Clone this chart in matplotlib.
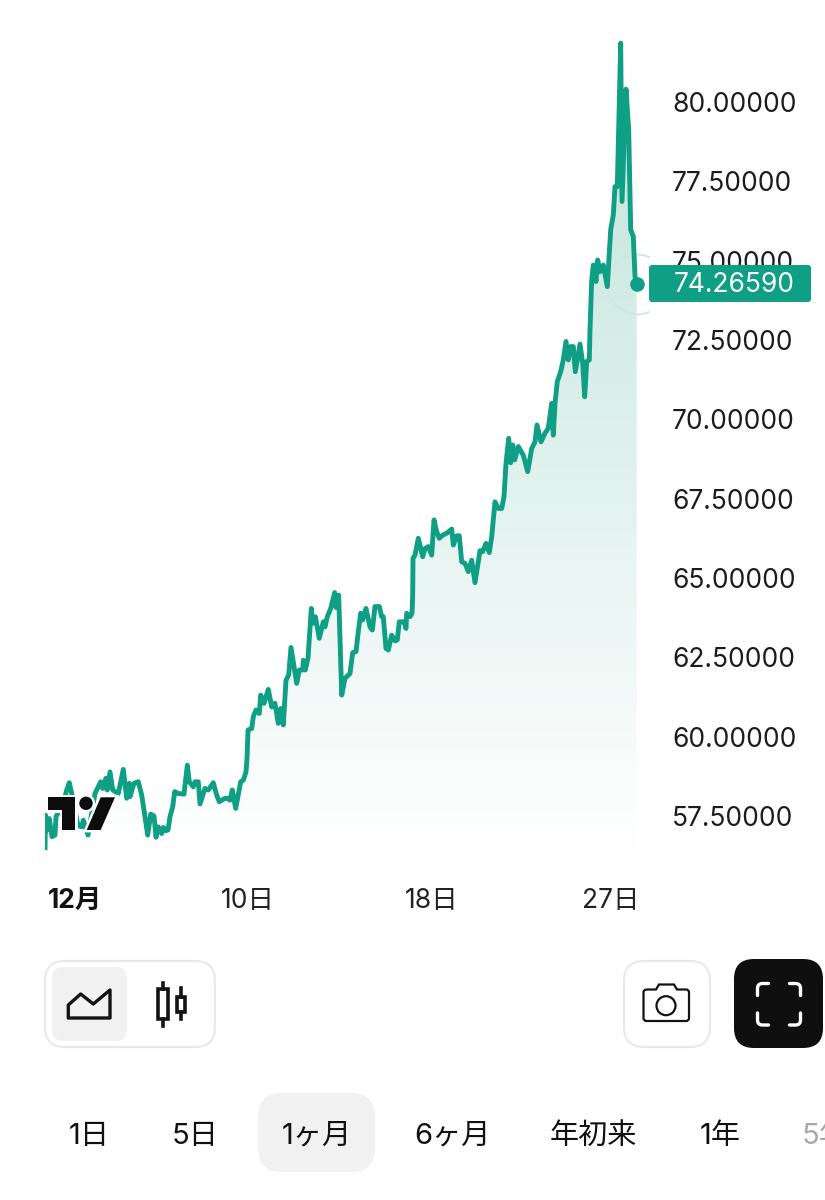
import matplotlib
matplotlib.use('Agg')
import matplotlib.pyplot as plt
import numpy as np
from matplotlib.patches import FancyBboxPatch, Circle, Polygon, PathPatch, Rectangle
from matplotlib.path import Path
from matplotlib.colors import LinearSegmentedColormap
from matplotlib.transforms import IdentityTransform

plt.rcParams['font.family'] = ['Inter', 'Noto Sans CJK JP', 'DejaVu Sans']

# chart data
bar_pos = [0, 0.5, 2.3, 4.3, 7, 10, 11, 18.3, 21.7, 24.3, 26.3, 33, 36.7, 38.3, 43, 50,
           55.7, 57.7, 61, 62.3, 65, 67.7, 73.3, 78.3, 81.7, 84.3, 85, 89, 93.3, 96.7,
           100, 102.7, 105.7, 109, 111, 113.3, 116.7, 118.3, 121, 123, 125, 127.7, 129.7,
           133.3, 139, 142.3, 144.3, 148.3, 150, 153.3, 155, 160, 163.3, 168.3, 171.7,
           174.3, 180, 182.3, 185, 187.3, 190.7, 195.7, 198.3, 201, 202, 203, 206.7,
           208.3, 211, 214.3, 215.7, 219, 223.3, 226.7, 230, 233.3, 235.7, 238.3, 241,
           243.7, 246, 251.7, 254.3, 257.7, 258.3, 260.3, 263, 266.3, 267.7, 270.3, 274.3,
           278.3, 280, 282.3, 285.7, 289.7, 291, 293.7, 296.7, 300, 305, 307.7, 311, 313.3,
           315.7, 317.7, 321, 325, 327.3, 330, 334.3, 336.7, 338.3, 341, 343.3, 346.7,
           350, 352.3, 354.3, 359, 361, 361.7, 365, 367, 367.7, 368, 370, 373.3, 377.7,
           380, 383.3, 386.7, 389, 391.7, 394.3, 397.7, 401.7, 406.7, 408.3, 411.7, 414.3,
           416.7, 420, 423.3, 426.7, 430, 435, 437.7, 441, 444.3, 446.7, 450, 453.3, 456.7,
           459, 461, 463.7, 465.7, 467.7, 469.7, 473.3, 478.3, 482.7, 486.7, 490, 492, 496,
           500, 503.3, 506.7, 508.3, 510, 512.3, 515.7, 518.3, 521, 523.3, 525.7, 528.3,
           530.3, 535, 537.7, 539.7, 541.7, 544.3, 545, 546.7, 548.3, 551, 552.7, 555,
           558.3, 562.3, 565.7, 568.3, 570, 572.3, 575.7, 577, 581, 583.7, 585.7, 588.3,
           590, 591.7]
prices = [56.43, 57.53, 57.06, 57.42, 56.85, 56.90, 57.48, 57.90, 58.32, 58.55, 58.27, 57.2,
          57.16, 57.37, 56.9, 58.21, 58.58, 58.37, 58.69, 58.32, 58.89, 58.32, 58.21, 58.97,
          58.06, 58.53, 58.11, 58.53, 58.58, 58.16, 57.48, 56.90, 57.56, 57.50, 56.83, 57.16,
          56.95, 57.14, 57.04, 57.06, 57.48, 57.79, 58.27, 58.21, 58.19, 59.10, 58.58, 58.42,
          58.58, 58.58, 57.88, 58.37, 58.32, 58.55, 58.16, 57.95, 58.06, 58.06, 58.00, 58.32,
          57.74, 58.58, 58.63, 58.89, 59.3, 60.21, 60.26, 60.63, 60.84, 60.73, 61.31, 61.05,
          61.49, 60.94, 61.05, 60.42, 60.89, 60.37, 61.78, 61.94, 62.81, 61.68, 62.10, 62.10,
          62.41, 62.10, 62.47, 64.04, 63.57, 63.78, 63.10, 63.62, 63.46, 63.78, 64.04, 64.54,
          64.07, 64.46, 61.31, 61.84, 61.99, 62.65, 62.68, 63.31, 63.89, 63.68, 64.04, 63.46,
          63.36, 64.10, 64.10, 63.78, 63.78, 62.78, 62.73, 63.20, 63.02, 63.05, 63.62, 63.62,
          63.41, 63.89, 63.78, 63.89, 64.46, 65.62, 65.72, 66.25, 65.67, 65.93, 65.99, 65.72,
          66.83, 66.46, 66.25, 66.35, 66.41, 66.54, 66.04, 66.33, 66.33, 65.51, 65.46, 65.20,
          65.56, 64.85, 65.86, 65.83, 66.09, 65.80, 66.30, 67.40, 67.19, 67.19, 67.56, 68.61,
          69.40, 68.63, 69.19, 68.72, 69.14, 68.87, 68.35, 69.08, 69.29, 69.82, 69.29, 69.56,
          69.72, 70.50, 69.50, 70.50, 71.19, 71.50, 71.87, 72.45, 71.87, 72.29, 72.29, 71.50,
          72.37, 71.76, 70.71, 71.82, 71.87, 72.81, 74.39, 74.86, 74.34, 75.02, 74.65, 74.86,
          74.18, 75.97, 76.44, 77.33, 77.33, 81.85, 76.86, 80.40, 79.12, 75.97, 75.76, 74.50,
          74.27]
y_ticks = [57.5, 60, 62.5, 65, 67.5, 70, 72.5, 75, 77.5, 80]
x_ticks = [30, 203, 387, 566]
x_labels = ['12月', '10日', '18日', '27日']
last_label = '74.26590'
tabs = ['1日', '5日', '1ヶ月', '6ヶ月', '年初来', '1年']
tab_centers = [89, 195, 317, 452, 593, 720]

TEAL = '#0e9f84'
INK = '#131313'

fig = plt.figure(figsize=(8.25, 12), dpi=100, facecolor='white')

# chart axes: px 45..672 wide, px 0..850 tall
ax = fig.add_axes([45 / 825, 350 / 1200, 627 / 825, 850 / 1200])
ax.set_xlim(0, 627)
ax.set_ylim(56.43, 83.21)
for s in ax.spines.values():
    s.set_visible(False)
ax.patch.set_alpha(0)

ax.yaxis.tick_right()
ax.set_yticks(y_ticks)
ax.set_yticklabels(['%.5f' % v for v in y_ticks], fontsize=19, color='#1c1c1c')
ax.tick_params(axis='y', length=0, pad=0)
ax.set_xticks(x_ticks)
ax.set_xticklabels(x_labels, fontsize=19, color='#222222')
ax.tick_params(axis='x', length=0, pad=27)
ax.get_xticklabels()[0].set_fontweight('bold')
ax.get_xticklabels()[0].set_color('#111111')

# gradient area under the line
cmap = LinearSegmentedColormap.from_list('fade', ['#ffffff', '#bfe3db'])
grad = np.linspace(1, 0, 256).reshape(-1, 1)
im = ax.imshow(grad, cmap=cmap, vmin=0, vmax=1, extent=[0, 627, 56.43, 81.85],
               aspect='auto', zorder=1)
ax.set_xlim(0, 627)
ax.set_ylim(56.43, 83.21)
area = Polygon(list(zip(bar_pos, prices)) + [(bar_pos[-1], 56.43), (0, 56.43)],
               transform=ax.transData, fc='none', ec='none')
ax.add_patch(area)
im.set_clip_path(area)

ax.plot(bar_pos, prices, color=TEAL, lw=3.5, solid_joinstyle='round', zorder=3)

# last price marker, ring stops where the price tag starts
ax.plot(bar_pos[-1], prices[-1], 'o', color=TEAL, ms=9.5, zorder=4, clip_on=False)
ring, = ax.plot(bar_pos[-1], prices[-1], 'o', mfc='none', mec='#cfe6e1', mew=1.3, ms=43,
                zorder=2.5)
ring.set_clip_path(Rectangle((0, 0), 649, 1200, transform=IdentityTransform()))

# overlay in pixel coordinates for the price tag, logo and buttons
ui = fig.add_axes([0, 0, 1, 1])
ui.set_xlim(0, 825)
ui.set_ylim(1200, 0)
ui.axis('off')
ui.patch.set_alpha(0)


def rbox(x0, y0, x1, y1, r, fc, ec='none', lw=0, z=2):
    p = FancyBboxPatch((x0 + r, y0 + r), x1 - x0 - 2 * r, y1 - y0 - 2 * r,
                       boxstyle='round,pad=%g,rounding_size=%g' % (r, r),
                       fc=fc, ec=ec, lw=lw, zorder=z)
    ui.add_patch(p)


# price tag hides part of the 75 label
rbox(649, 265, 811, 302, 3, TEAL)
ui.text(734.5, 285, last_label, color='white', fontsize=19, ha='center', va='center', zorder=3)

# logo with white halo behind it
t_pts = [(48.3, 797.3), (75, 797.3), (75, 830), (61.7, 830), (61.7, 810), (48.3, 810)]
slash_pts = [(100.7, 797.3), (115, 797.3), (100.7, 830), (86.7, 830)]
halo = dict(fc='white', ec='white', lw=3.5, zorder=4)
ink = dict(fc='#0c0c0c', ec='none', zorder=5)
for kw in (halo, ink):
    ui.add_patch(Polygon(t_pts, **kw))
    ui.add_patch(Circle((86, 803.3), 6.7, **kw))
    ui.add_patch(Polygon(slash_pts, **kw))

# chart type switch
rbox(45, 961, 215, 1047, 20, 'white', '#e9e9e9', 1.6)
rbox(52, 967, 127, 1041, 12, '#f1f1f1')
ui.add_patch(Polygon([(68.3, 1018), (68.3, 1005), (80.7, 994), (93.3, 1004), (110, 990), (110, 1018)],
                     fc='none', ec=INK, lw=2.4, joinstyle='round', zorder=3))
ui.add_patch(Rectangle((158.3, 989.3), 10, 30, fc='none', ec=INK, lw=2.6, zorder=3))
ui.plot([163.3, 163.3], [982.7, 989.3], color=INK, lw=2.6, zorder=3)
ui.plot([163.3, 163.3], [1019.3, 1026], color=INK, lw=2.6, zorder=3)
ui.add_patch(Rectangle((176.7, 996.7), 8.6, 15, fc='none', ec=INK, lw=2.6, zorder=3))
ui.plot([181, 181], [988.3, 996.7], color=INK, lw=2.6, zorder=3)
ui.plot([181, 181], [1011.7, 1019.3], color=INK, lw=2.6, zorder=3)

# camera button
rbox(624, 961, 710, 1047, 20, 'white', '#e9e9e9', 1.6)
cam = Path([(647, 989.5), (656, 989.5), (659, 984.5), (674, 984.5), (677, 989.5), (686, 989.5),
            (689, 989.5), (689, 992.5), (689, 1018), (689, 1021), (686, 1021), (646.5, 1021),
            (643.5, 1021), (643.5, 1018), (643.5, 992.5), (643.5, 989.5), (647, 989.5)],
           [Path.MOVETO, Path.LINETO, Path.LINETO, Path.LINETO, Path.LINETO, Path.LINETO,
            Path.CURVE3, Path.CURVE3, Path.LINETO, Path.CURVE3, Path.CURVE3, Path.LINETO,
            Path.CURVE3, Path.CURVE3, Path.LINETO, Path.CURVE3, Path.CURVE3])
ui.add_patch(PathPatch(cam, fc='none', ec=INK, lw=1.6, zorder=3))
ui.add_patch(Circle((666, 1005.7), 9.5, fc='none', ec=INK, lw=1.6, zorder=3))

# fullscreen button
rbox(734, 959, 823, 1048, 20, '#0f0f0f')
for cx, cy, sx, sy in [(757.5, 983.5, 1, 1), (800.5, 983.5, -1, 1),
                       (757.5, 1025, 1, -1), (800.5, 1025, -1, -1)]:
    corner = Path([(cx, cy + sy * 12), (cx, cy + sy * 5), (cx, cy), (cx + sx * 5, cy), (cx + sx * 11, cy)],
                  [Path.MOVETO, Path.LINETO, Path.CURVE3, Path.CURVE3, Path.LINETO])
    ui.add_patch(PathPatch(corner, fc='none', ec='white', lw=2.4, capstyle='round', zorder=3))

# period tabs
rbox(258, 1093, 375, 1172, 24, '#f1f1f1')
for label, cx in zip(tabs, tab_centers):
    ui.text(cx, 1136, label, fontsize=21, color='#111111', ha='center', va='center', zorder=3)
ui.text(802, 1136, '5年', fontsize=21, color='#a8a8a8', ha='left', va='center', zorder=3)

fig.savefig('out.png', dpi=100, facecolor='white')
